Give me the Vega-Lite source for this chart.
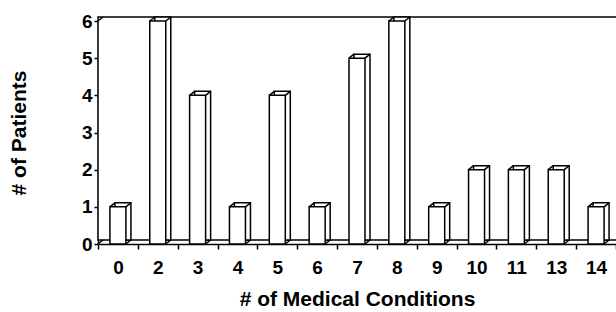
{
  "$schema": "https://vega.github.io/schema/vega-lite/v6.json",
  "width": 518,
  "height": 223,
  "autosize": {"type": "none"},
  "padding": {"left": 98, "top": 21, "right": 0, "bottom": 68},
  "background": "white",
  "config": {
    "view": {"stroke": null},
    "font": "Liberation Sans",
    "axis": {
      "domainColor": "black",
      "domainWidth": 1.5,
      "tickColor": "black",
      "tickWidth": 1.5,
      "labelColor": "black",
      "labelFont": "Liberation Sans",
      "labelFontWeight": "bold",
      "labelFontSize": 19,
      "titleColor": "black",
      "titleFont": "Liberation Sans",
      "titleFontWeight": "bold",
      "titleFontSize": 21,
      "grid": false
    },
    "axisY": {"labelFontSize": 19, "tickCount": 7, "labelOverlap": false}
  },
  "datasets": {
    "bars": [
      {"conditions": "0", "patients": 1},
      {"conditions": "2", "patients": 6},
      {"conditions": "3", "patients": 4},
      {"conditions": "4", "patients": 1},
      {"conditions": "5", "patients": 4},
      {"conditions": "6", "patients": 1},
      {"conditions": "7", "patients": 5},
      {"conditions": "8", "patients": 6},
      {"conditions": "9", "patients": 1},
      {"conditions": "10", "patients": 2},
      {"conditions": "11", "patients": 2},
      {"conditions": "13", "patients": 2},
      {"conditions": "14", "patients": 1}
    ],
    "frame": [{"first": "0", "bottom": 0, "top": 6}]
  },
  "layer": [
    {
      "data": {"name": "frame"},
      "mark": {"type": "rect", "fill": "white", "stroke": "black", "strokeWidth": 1.5, "xOffset": 5, "x2Offset": 5, "yOffset": -4, "y2Offset": -4},
      "encoding": {
        "y": {"field": "bottom", "type": "quantitative", "scale": {"domain": [0, 6], "nice": false},
          "axis": {"title": "# of Patients", "values": [0,1,2,3,4,5,6], "tickCount": 7, "labelFontSize": 19, "labelOverlap": false, "tickSize": 4, "labelPadding": 2, "titlePadding": 52}},
        "y2": {"field": "top"}
      }
    },
    {
      "data": {"name": "frame"},
      "mark": {"type": "rule", "stroke": "black", "strokeWidth": 1.5, "x2Offset": 5, "y2Offset": -4},
      "encoding": {
        "x": {"field": "first", "type": "ordinal", "bandPosition": 0,
          "scale": {"domain": ["0","2","3","4","5","6","7","8","9","10","11","13","14"], "paddingInner": 0, "paddingOuter": 0},
          "axis": {"title": "# of Medical Conditions", "labelAngle": 0, "tickBand": "extent", "tickSize": 5, "labelPadding": 9, "titlePadding": 11, "domain": true}},
        "x2": {"field": "first", "bandPosition": 0},
        "y": {"field": "top", "type": "quantitative",
          "axis": {"title": "# of Patients", "values": [0,1,2,3,4,5,6], "tickCount": 7, "labelFontSize": 19, "labelOverlap": false, "tickSize": 4, "labelPadding": 2, "titlePadding": 52}},
        "y2": {"field": "top"}
      }
    },
    {
      "data": {"name": "frame"},
      "mark": {"type": "rule", "stroke": "black", "strokeWidth": 1.5, "x2Offset": 5, "y2Offset": -4},
      "encoding": {
        "x": {"field": "first", "type": "ordinal", "bandPosition": 0},
        "x2": {"field": "first", "bandPosition": 0},
        "y": {"field": "bottom", "type": "quantitative",
          "axis": {"title": "# of Patients", "values": [0,1,2,3,4,5,6], "tickCount": 7, "labelFontSize": 19, "labelOverlap": false, "tickSize": 4, "labelPadding": 2, "titlePadding": 52}},
        "y2": {"field": "bottom"}
      }
    },
    {
      "data": {"name": "bars"},
      "mark": {"type": "bar", "width": 16, "fill": "white", "stroke": "black", "strokeWidth": 1.5, "xOffset": 5, "yOffset": -4, "y2Offset": -4},
      "encoding": {
        "x": {"field": "conditions", "type": "ordinal", "sort": null},
        "y": {"field": "patients", "type": "quantitative",
          "axis": {"title": "# of Patients", "values": [0,1,2,3,4,5,6], "tickCount": 7, "labelFontSize": 19, "labelOverlap": false, "tickSize": 4, "labelPadding": 2, "titlePadding": 52}}
      }
    },
    {
      "data": {"name": "bars"},
      "mark": {"type": "bar", "width": 16, "fill": "white", "stroke": "black", "strokeWidth": 1.5},
      "encoding": {
        "x": {"field": "conditions", "type": "ordinal", "sort": null},
        "y": {"field": "patients", "type": "quantitative",
          "axis": {"title": "# of Patients", "values": [0,1,2,3,4,5,6], "tickCount": 7, "labelFontSize": 19, "labelOverlap": false, "tickSize": 4, "labelPadding": 2, "titlePadding": 52}}
      }
    },
    {
      "data": {"name": "bars"},
      "mark": {"type": "rule", "stroke": "black", "strokeWidth": 1.5, "x2Offset": 5, "y2Offset": -4},
      "encoding": {
        "x": {"field": "conditions", "type": "ordinal", "sort": null, "bandPosition": 0.2992},
        "x2": {"field": "conditions", "bandPosition": 0.2992},
        "y": {"field": "patients", "type": "quantitative",
          "axis": {"title": "# of Patients", "values": [0,1,2,3,4,5,6], "tickCount": 7, "labelFontSize": 19, "labelOverlap": false, "tickSize": 4, "labelPadding": 2, "titlePadding": 52}},
        "y2": {"field": "patients"}
      }
    },
    {
      "data": {"name": "bars"},
      "mark": {"type": "rule", "stroke": "black", "strokeWidth": 1.5, "x2Offset": 5, "y2Offset": -4},
      "encoding": {
        "x": {"field": "conditions", "type": "ordinal", "sort": null, "bandPosition": 0.7008},
        "x2": {"field": "conditions", "bandPosition": 0.7008},
        "y": {"field": "patients", "type": "quantitative",
          "axis": {"title": "# of Patients", "values": [0,1,2,3,4,5,6], "tickCount": 7, "labelFontSize": 19, "labelOverlap": false, "tickSize": 4, "labelPadding": 2, "titlePadding": 52}},
        "y2": {"field": "patients"}
      }
    },
    {
      "data": {"name": "bars"},
      "mark": {"type": "rule", "stroke": "black", "strokeWidth": 1.5, "x2Offset": 5, "y2Offset": -4},
      "encoding": {
        "x": {"field": "conditions", "type": "ordinal", "sort": null, "bandPosition": 0.7008},
        "x2": {"field": "conditions", "bandPosition": 0.7008},
        "y": {"datum": 0, "type": "quantitative",
          "axis": {"title": "# of Patients", "values": [0,1,2,3,4,5,6], "tickCount": 7, "labelFontSize": 19, "labelOverlap": false, "tickSize": 4, "labelPadding": 2, "titlePadding": 52}},
        "y2": {"datum": 0}
      }
    }
  ]
}
